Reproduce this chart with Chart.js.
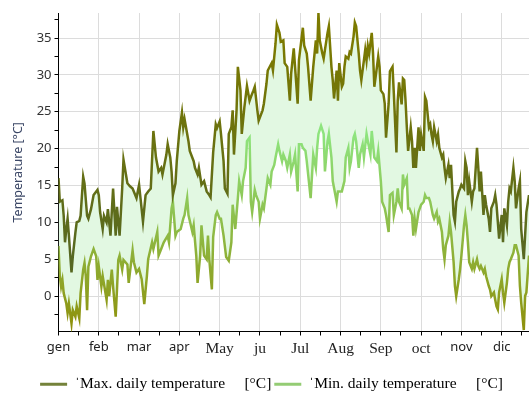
<!DOCTYPE html>
<html>
<head>
<meta charset="utf-8">
<script src="https://cdn.jsdelivr.net/npm/chart.js@4.4.0/dist/chart.umd.min.js"></script>
<style>
  html, body { margin: 0; padding: 0; background: #fff; }
  #wrap { width: 529px; height: 394px; }
</style>
</head>
<body>
<div id="wrap"><canvas id="canvas"></canvas></div>
<script>
// month labels, one every 31 days
var monthLabels = ['gen', 'feb', 'mar', 'apr', 'May', 'ju', 'Jul', 'Aug', 'Sep', 'oct', 'nov', 'dic'];
var serifMonths = ['May', 'ju', 'Jul', 'Aug', 'Sep', 'oct'];

var maxDays = [0,1,3,4,5,6,7,8,10,11,13,14,16,17,19,20,22,23,25,27,30,31,32,34,35,37,38,40,42,44,45,47,49,50,53,55,57,60,62,65,67,69,71,73,75,77,79,80,83,84,86,87,88,90,91,93,95,96,97,100,101,104,105,107,108,110,112,114,116,117,119,121,122,124,125,127,128,130,131,133,134,135,137,138,140,141,143,145,147,148,150,151,153,154,157,158,160,161,164,165,167,168,170,171,173,174,176,178,179,181,182,184,185,188,189,191,192,194,196,198,199,200,201,203,204,205,207,208,210,211,212,214,215,216,218,219,220,221,223,224,225,227,228,229,231,232,233,235,236,237,238,239,241,242,243,245,246,247,248,250,251,252,254,255,257,258,260,261,262,264,265,266,267,268,269,271,272,273,274,275,277,278,279,281,282,283,285,286,287,288,289,291,292,293,295,296,297,298,300,301,302,304,305,306,308,309,310,312,313,314,315,316,318,319,320,322,323,324,325,327,328,329,331,332,333,335,336,337,338,339,341,342,343,345,346,347,348,350,351,352,354,355,356,358,359,360,362];
var maxTemps = [16.0,12.8,13.0,10.9,7.3,9.1,10.5,8.2,3.2,5.4,8.6,10.0,10.2,10.9,16.2,15.3,10.9,10.5,11.8,13.7,14.4,13.7,11.4,9.1,10.9,10.0,11.8,8.2,14.6,8.2,12.1,8.2,14.6,18.5,15.3,14.9,14.6,13.3,15.1,10.1,13.7,14.2,14.6,22.4,18.8,16.9,17.4,16.5,19.2,20.6,18.8,16.9,13.7,15.3,18.3,22.4,24.9,22.9,24.0,21.0,19.7,18.3,17.4,16.5,17.4,15.1,15.6,14.2,13.7,13.4,19.5,23.3,22.8,23.7,22.0,18.3,14.6,13.9,22.0,22.9,25.2,19.2,25.2,31.1,27.9,22.0,25.6,28.5,26.5,27.0,27.9,28.4,25.2,23.8,25.2,26.1,28.8,30.6,31.6,30.6,34.3,36.8,35.7,34.5,34.7,31.6,31.1,26.5,30.2,33.6,31.1,26.1,32.0,36.4,34.0,32.9,31.1,26.5,31.1,34.7,32.9,38.4,34.7,32.9,32.2,33.4,35.7,36.6,31.1,29.3,26.8,30.6,26.5,31.6,28.4,28.8,31.1,32.5,32.2,33.1,32.9,35.2,37.1,36.6,32.9,30.6,29.3,32.0,33.4,32.0,33.9,32.9,35.7,32.9,28.4,31.1,32.5,31.1,27.9,27.4,26.1,21.5,26.1,30.5,31.1,27.5,19.5,26.5,29.0,26.0,29.5,29.3,26.5,22.9,19.7,22.9,21.0,17.4,20.1,17.4,22.9,19.7,21.9,19.7,27.0,26.5,22.9,23.3,21.9,21.0,22.9,21.0,21.9,20.1,18.8,19.2,17.4,16.0,17.8,16.0,17.8,11.0,10.1,12.8,14.2,14.6,15.1,14.6,18.3,17.4,13.7,15.6,12.8,14.2,14.6,20.1,17.4,14.2,16.9,11.0,13.7,12.4,10.5,8.7,11.9,12.8,13.7,12.4,10.1,7.8,11.0,7.3,11.9,9.6,12.8,14.6,14.2,17.4,15.6,11.9,14.6,15.6,9.1,5.0,8.2,11.4,13.7];

var minDays = [0,1,2,3,4,6,7,8,10,11,13,14,16,17,19,20,21,22,23,25,27,29,30,31,33,34,37,38,39,41,42,44,45,46,47,49,50,53,54,57,58,60,62,64,66,68,69,72,73,76,77,79,81,84,85,87,88,90,91,94,96,97,99,100,103,104,106,107,109,110,112,114,115,116,118,119,121,122,124,125,127,129,131,133,134,136,138,139,141,142,144,145,147,148,149,151,152,154,155,157,158,160,161,163,164,166,167,169,170,172,173,175,176,178,179,181,182,184,185,187,188,190,191,194,196,198,199,200,202,204,205,207,208,210,211,214,215,218,220,221,223,224,225,227,228,229,231,232,234,235,237,238,240,241,243,245,246,248,249,251,252,254,255,257,258,260,261,262,264,265,266,268,269,270,272,273,274,275,277,278,279,281,282,283,285,286,287,288,289,291,292,293,295,296,297,298,300,301,302,304,305,306,308,309,310,312,313,314,315,316,318,319,320,322,323,324,325,327,328,329,331,332,333,335,336,337,338,339,341,342,343,345,346,347,348,350,351,352,354,355,356,358,359,360,362];
var minTemps = [6.8,2.7,1.3,2.2,0.4,-1.0,-2.3,-1.0,-3.7,-1.9,-2.8,-1.4,-3.0,0.4,3.6,4.5,2.7,-1.9,4.0,5.4,6.4,5.4,2.2,4.0,1.3,2.7,-0.5,2.2,0.0,3.6,1.3,-2.8,0.9,4.9,5.5,3.6,4.9,4.3,1.8,6.2,4.6,3.2,3.7,2.3,-1.1,2.7,5.0,7.3,6.4,8.7,5.5,6.4,7.3,8.2,7.3,11.9,12.8,8.2,8.7,9.1,10.5,11.0,13.3,11.0,8.7,9.6,5.5,1.8,5.5,9.6,5.5,5.0,8.2,5.0,0.9,8.0,11.0,11.4,10.5,10.5,8.2,5.3,4.8,7.3,12.4,9.1,13.3,15.6,13.7,15.6,17.4,21.0,21.5,12.8,11.4,14.4,13.7,12.8,10.5,12.4,11.9,14.6,16.0,15.1,16.9,17.8,18.8,20.6,19.7,18.3,19.2,18.3,17.4,19.2,16.9,18.3,19.2,14.2,20.6,20.6,20.1,19.7,18.3,13.3,19.2,17.4,20.1,22.0,23.1,22.0,16.9,21.0,22.0,18.8,15.6,12.8,14.2,14.2,15.6,18.8,20.1,17.4,18.3,21.5,22.0,21.0,17.4,19.2,20.6,18.8,22.0,21.0,19.2,22.4,18.8,18.3,19.7,15.6,12.8,11.9,11.0,8.7,13.7,14.0,11.0,12.8,14.6,12.8,11.9,16.5,15.1,16.0,11.9,11.9,11.0,8.2,10.5,9.1,11.4,11.9,12.4,12.8,13.7,13.3,13.3,12.8,11.9,11.0,10.5,11.4,10.1,10.5,8.7,6.4,5.0,6.9,8.2,10.1,8.7,4.6,1.4,0.0,2.3,3.7,5.5,9.6,11.0,9.6,7.3,4.6,3.7,4.6,3.7,5.0,4.1,3.7,4.1,3.2,3.7,2.7,1.4,0.9,0.0,0.5,-0.5,-1.4,-1.8,0.5,2.3,0.5,-0.9,1.8,3.7,4.6,5.0,5.9,6.9,6.9,5.5,1.4,-0.9,-4.6,0.0,0.5,5.5];

var sansFont = '"Segoe UI", "Noto Sans", "Open Sans", sans-serif';
var serifFont = '"Liberation Serif", "Times New Roman", serif';

function points(days, temps) {
    var out = [];
    for (var i = 0; i < days.length; i++) {
        out.push({ x: days[i], y: temps[i] });
    }
    return out;
}

// vertical gradient so the line colour follows the temperature
function tempGradient(c, lowV, lowC, highV, highC) {
    var chart = c.chart;
    if (!chart.chartArea || !chart.scales.y) return highC;
    var y = chart.scales.y;
    var g = chart.ctx.createLinearGradient(0, y.getPixelForValue(lowV), 0, y.getPixelForValue(highV));
    g.addColorStop(0, lowC);
    g.addColorStop(1, highC);
    return g;
}

// nudge the legend down/right a bit, like the original
var legendShift = {
    id: 'legendShift',
    afterLayout: function(chart) {
        var l = chart.legend;
        if (!l) return;
        l.top += 8; l.bottom += 8;
        l.left += 7; l.right += 7;
    }
};

var ctx = document.getElementById('canvas').getContext('2d');
window.myChart = new Chart(ctx, {
    type: 'line',
    data: {
        datasets: [{
            label: 'Max. daily temperature',
            data: points(maxDays, maxTemps),
            borderColor: function(c) { return tempGradient(c, 5, 'rgb(86,104,34)', 35, 'rgb(124,122,0)'); },
            backgroundColor: '#e2f8e2',
            borderWidth: 2.5,
            pointRadius: 0,
            fill: '+1'
        }, {
            label: 'Min. daily temperature',
            data: points(minDays, minTemps),
            borderColor: function(c) { return tempGradient(c, -4, 'rgb(142,146,14)', 22, 'rgb(142,228,126)'); },
            borderWidth: 2.5,
            pointRadius: 0,
            fill: false
        }]
    },
    plugins: [legendShift],
    options: {
        responsive: true,
        maintainAspectRatio: false,
        animation: false,
        layout: { padding: { top: 13, right: 0, bottom: 0, left: 0 } },
        plugins: {
            tooltip: { enabled: false },
            filler: { drawTime: 'beforeDatasetsDraw' },
            legend: {
                position: 'bottom',
                labels: {
                    boxWidth: 27,
                    boxHeight: 3,
                    padding: 3,
                    color: '#111',
                    font: { family: serifFont, size: 15.5 },
                    generateLabels: function(chart) {
                        return [{
                            text: '\u02c8Max. daily temperature     [\u00b0C]',
                            fillStyle: '#74823a', strokeStyle: '#74823a', lineWidth: 0,
                            datasetIndex: 0, hidden: false
                        }, {
                            text: '\u02c8Min. daily temperature     [\u00b0C]',
                            fillStyle: '#94cc74', strokeStyle: '#94cc74', lineWidth: 0,
                            datasetIndex: 1, hidden: false
                        }];
                    }
                }
            }
        },
        scales: {
            x: {
                type: 'linear',
                min: 0,
                max: 362,
                afterFit: function(s) { s.height = 34; },
                border: { color: '#000', width: 1 },
                grid: {
                    color: function(c) { return c.tick && c.tick.value % 31 === 0 ? '#dcdcdc' : 'rgba(0,0,0,0)'; },
                    tickColor: '#000',
                    tickLength: 4
                },
                ticks: {
                    stepSize: 15.5,
                    includeBounds: false,
                    autoSkip: false,
                    maxRotation: 0,
                    padding: 4,
                    color: '#222',
                    callback: function(v) { return v % 31 === 0 ? monthLabels[v / 31] : ''; },
                    font: function(c) {
                        var lbl = c.tick ? monthLabels[c.tick.value / 31] : '';
                        if (serifMonths.indexOf(lbl) >= 0) return { family: serifFont, size: 15.5 };
                        return { family: sansFont, size: 13 };
                    }
                }
            },
            y: {
                min: -4.8,
                max: 38.4,
                afterFit: function(s) { s.width = 58.5; },
                border: { color: '#000', width: 1 },
                grid: {
                    color: function(c) { return c.tick && c.tick.value % 5 === 0 ? '#dcdcdc' : 'rgba(0,0,0,0)'; },
                    tickColor: '#000',
                    tickLength: 4
                },
                ticks: {
                    stepSize: 2.5,
                    includeBounds: false,
                    color: '#333',
                    font: { family: sansFont, size: 13 },
                    callback: function(v) { return v % 5 === 0 ? v : ''; }
                },
                title: {
                    display: true,
                    text: 'Temperature [\u00b0C]',
                    color: '#3b4766',
                    font: { family: sansFont, size: 12.5 },
                    padding: { top: 11, bottom: 0 }
                }
            }
        }
    }
});
</script>
</body>
</html>
